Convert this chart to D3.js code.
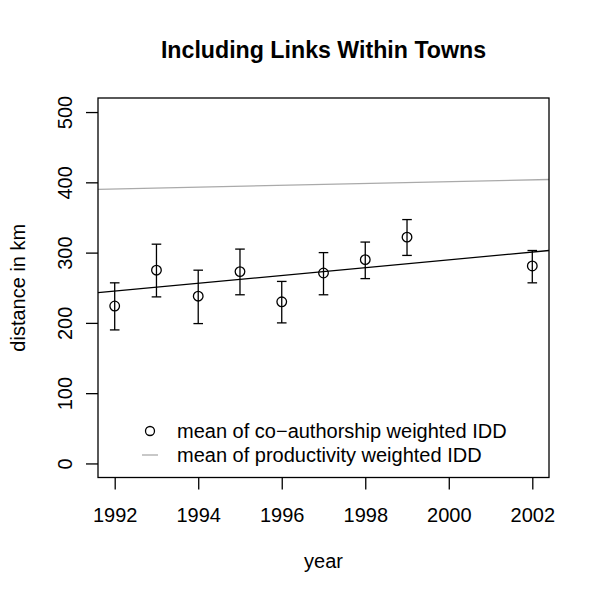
<!DOCTYPE html>
<html><head><meta charset="utf-8">
<script src="https://cdn.jsdelivr.net/npm/d3@7"></script>
<style>body{margin:0;background:#fff}</style>
</head><body>
<script>
const years = [1992, 1993, 1994, 1995, 1996, 1997, 1998, 1999, 2002];
const means = [224, 275, 238, 273, 230, 271, 290, 322, 281];
const lower = [190, 237, 199, 240, 200, 240, 263, 296, 257];
const upper = [257, 312, 275, 305, 259, 300, 315, 347, 303];
const trendYears = [1991.6, 2002.4];
const trendCoAuthor = [243, 303];
const trendProductivity = [390, 404];
const xTicks = [1992, 1994, 1996, 1998, 2000, 2002];
const yTicks = [0, 100, 200, 300, 400, 500];
const legendLabels = ["mean of co\u2212authorship weighted IDD", "mean of productivity weighted IDD"];

const W = 600, H = 600;
const L = 98, R = 549, T = 98, B = 477.5;
const font = "Liberation Sans, Arial, Helvetica, sans-serif";
const FS = 20;
const svg = d3.select("body").append("svg").attr("width", W).attr("height", H)
  .style("font-family", font);

const x = d3.scaleLinear().domain([1991.6, 2002.4]).range([L, R]);
const y = d3.scaleLinear().domain([-20, 520]).range([B, T]);

// trend lines
const line = d3.line().x(d => x(d[0])).y(d => y(d[1]));
svg.append("path").attr("d", line(trendYears.map((t, i) => [t, trendProductivity[i]])))
  .attr("stroke", "#aaaaaa").attr("stroke-width", 1.3).attr("fill", "none");
svg.append("path").attr("d", line(trendYears.map((t, i) => [t, trendCoAuthor[i]])))
  .attr("stroke", "#000").attr("stroke-width", 1.3).attr("fill", "none");

// error bars
const g = svg.append("g").attr("stroke", "#000").attr("stroke-width", 1.3).attr("fill", "none");
years.forEach((yr, i) => {
  const cx = x(yr);
  g.append("line").attr("x1", cx).attr("x2", cx).attr("y1", y(lower[i])).attr("y2", y(upper[i]));
  g.append("line").attr("x1", cx - 4.8).attr("x2", cx + 4.8).attr("y1", y(lower[i])).attr("y2", y(lower[i]));
  g.append("line").attr("x1", cx - 4.8).attr("x2", cx + 4.8).attr("y1", y(upper[i])).attr("y2", y(upper[i]));
});
svg.append("g").selectAll("circle").data(years).join("circle")
  .attr("cx", d => x(d)).attr("cy", (d, i) => y(means[i])).attr("r", 4.8)
  .attr("fill", "none").attr("stroke", "#000").attr("stroke-width", 1.3);

// box
svg.append("rect").attr("x", L).attr("y", T).attr("width", R - L).attr("height", B - T)
  .attr("fill", "none").attr("stroke", "#000").attr("stroke-width", 1.3);

// x axis
const xa = svg.append("g").attr("transform", `translate(0,${B})`)
  .call(d3.axisBottom(x).tickValues(xTicks).tickFormat(d3.format("d")).tickSize(12));
xa.select(".domain").remove();
xa.selectAll("line").attr("stroke-width", 1.3);
xa.selectAll("text").attr("font-size", FS).attr("font-family", font)
  .attr("dy", null).attr("y", 44.5);

// y axis
const ya = svg.append("g").attr("transform", `translate(${L},0)`)
  .call(d3.axisLeft(y).tickValues(yTicks).tickSize(12));
ya.select(".domain").remove();
ya.selectAll("line").attr("stroke-width", 1.3);
ya.selectAll("text").attr("font-size", FS).attr("font-family", font)
  .attr("text-anchor", "middle").attr("dy", null).attr("x", null).attr("y", 0)
  .attr("transform", `translate(-26,0) rotate(-90)`);

// title and labels
svg.append("text").attr("x", (L + R) / 2).attr("y", 58).attr("text-anchor", "middle")
  .attr("font-size", 23.2).attr("font-weight", "bold").text("Including Links Within Towns");
svg.append("text").attr("x", (L + R) / 2).attr("y", 568).attr("text-anchor", "middle")
  .attr("font-size", FS).text("year");
svg.append("text").attr("transform", `translate(25,${(T + B) / 2}) rotate(-90)`)
  .attr("text-anchor", "middle").attr("font-size", FS).text("distance in km");

// legend
const lg = svg.append("g");
lg.append("circle").attr("cx", 150).attr("cy", 431).attr("r", 4.5)
  .attr("fill", "none").attr("stroke", "#000").attr("stroke-width", 1.3);
lg.append("line").attr("x1", 142).attr("x2", 158).attr("y1", 455).attr("y2", 455)
  .attr("stroke", "#aaaaaa").attr("stroke-width", 1.3);
lg.selectAll("text").data(legendLabels).join("text")
  .attr("x", 177).attr("y", (d, i) => 438 + i * 23.5).attr("font-size", FS).text(d => d);
</script>
</body></html>
